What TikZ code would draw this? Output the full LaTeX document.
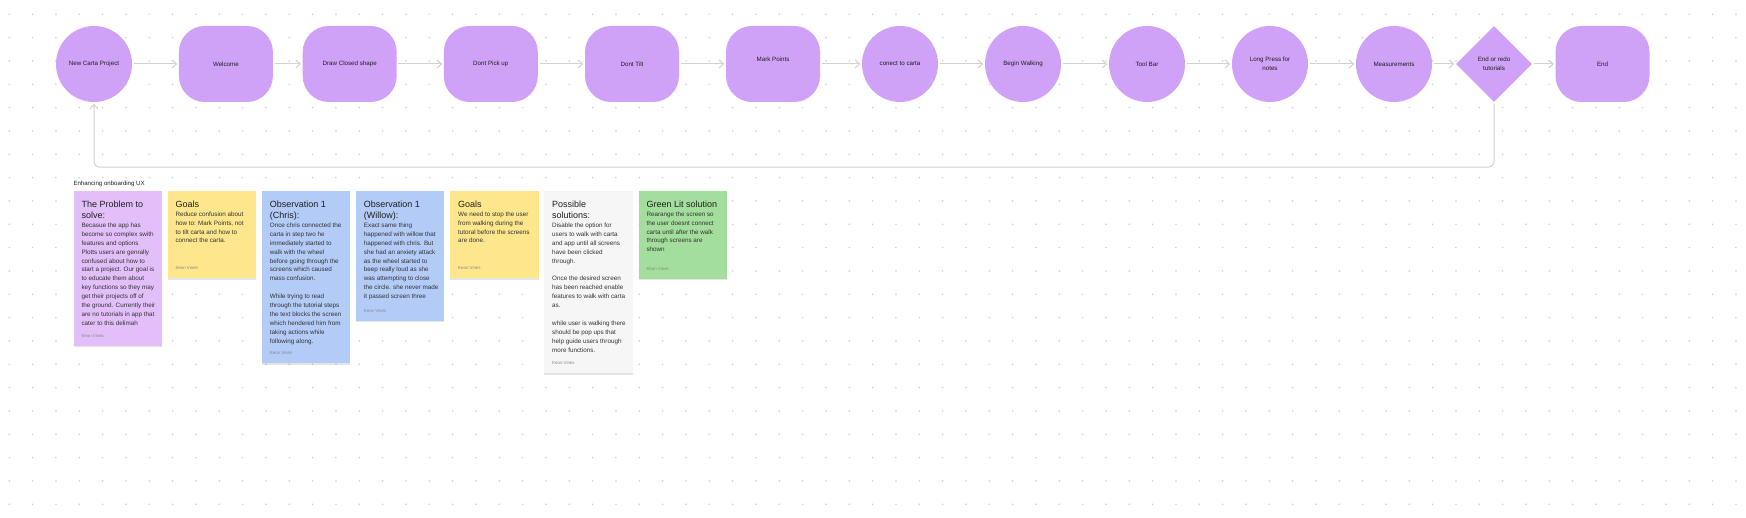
\documentclass[tikz,border=0pt]{standalone}
\usepackage{fontspec}
\setmainfont{Liberation Sans}
\usetikzlibrary{arrows.meta,shapes.geometric,shadows}
\definecolor{nodepurple}{HTML}{CFA2F8}
\definecolor{txtdark}{HTML}{1E1E1E}
\definecolor{linegray}{HTML}{D2D2D2}
\definecolor{dotgray}{HTML}{CFCFCF}
\definecolor{stviolet}{HTML}{E3BFFA}
\definecolor{styellow}{HTML}{FDE68C}
\definecolor{stblue}{HTML}{B3CBF7}
\definecolor{stgray}{HTML}{F6F6F6}
\definecolor{stgreen}{HTML}{A4DE9C}
\definecolor{notetxt}{HTML}{333333}
\definecolor{authorgray}{HTML}{8A8A8A}
\newcommand\notettl{\fontsize{9}{11.2}\selectfont\color{txtdark}}
\newcommand\notebd{\fontsize{6.3}{8.9}\selectfont\color{notetxt}}
\newcommand\firstline{\vrule height 7pt depth 0pt width 0pt}
\tikzset{
  flow/.style={fill=nodepurple, draw=none, text=txtdark, font=\fontsize{6.2}{9}\selectfont, align=center, inner sep=0pt},
  circ/.style={flow, circle, minimum size=76pt},
  rr/.style={flow, rectangle, rounded corners=26pt, minimum width=94pt, minimum height=76pt},
  dia/.style={flow, diamond, minimum width=76pt, minimum height=76pt},
  lbl/.style={inner sep=0pt, text=txtdark, font=\fontsize{6.2}{9}\selectfont, align=center},
  conn/.style={draw=linegray, line width=1pt, -{Straight Barb[length=4.5pt,width=8pt,line width=1pt]}, shorten >=1.5pt, shorten <=1.5pt},
  note/.style={rectangle, anchor=north west, minimum width=88.3pt, inner sep=0pt, draw=none,
    drop shadow={shadow xshift=0pt, shadow yshift=-1.2pt, fill=black, opacity=0.10}},
  ntext/.style={anchor=north west, inner sep=0pt, text width=84pt, align=flush left},
  author/.style={anchor=base west, inner sep=0pt, font=\fontsize{4.4}{5}\selectfont, text=authorgray},
}
\begin{document}
\begin{tikzpicture}[x=1pt,y=1pt]
\useasboundingbox (0,0) rectangle (1746,-518);
\fill[white] (0,0) rectangle (1746,-518);
% dot grid
\foreach \i in {0,...,74}{
  \foreach \j in {0,...,21}{
    \fill[dotgray] (9.3+23.333*\i,-14.3-23.333*\j) circle (0.85);
  }
}
% flow
\node[circ] (start) at (94,-64) {New Carta Project};
\node[rr] (wel) at (225.9,-64) {Welcome};
\node[rr] (draw) at (349.7,-64) {Draw Closed shape};
\node[rr] (pick) at (490.8,-64) {Dont Pick up};
\node[rr] (tilt) at (632,-64) {Dont Tilt};
\node[rr] (mark) at (773,-64) {};
\node[lbl] (markt) at (773,-59.5) {Mark Points};
\node[circ] (conn) at (900,-64) {conect to carta};
\node[circ] (walk) at (1023,-64) {Begin Walking};
\node[circ] (tool) at (1147,-64) {Tool Bar};
\node[circ] (press) at (1270,-64) {Long Press for\\notes};
\node[circ] (meas) at (1394,-64) {Measurements};
\node[dia] (dec) at (1494,-64) {End or redo\\tutorials};
\node[rr] (end) at (1602.5,-64) {End};
\draw[conn] (start) -- (wel);
\draw[conn] (wel) -- (draw);
\draw[conn] (draw) -- (pick);
\draw[conn] (pick) -- (tilt);
\draw[conn] (tilt) -- (mark);
\draw[conn] (mark) -- (conn);
\draw[conn] (conn) -- (walk);
\draw[conn] (walk) -- (tool);
\draw[conn] (tool) -- (press);
\draw[conn] (press) -- (meas);
\draw[conn] (meas) -- (dec);
\draw[conn] (dec) -- (end);
\draw[conn, rounded corners=6pt] (dec.south) -- ++(0,-65) -| (start.south);
% section title
\node[anchor=west, inner sep=0pt, font=\fontsize{6.1}{7}\selectfont, text=txtdark] (sect) at (73.3,-184) {Enhancing onboarding UX};
% note 1
\node[note, fill=stviolet, minimum height=155pt] (n1) at (73.3,-190.7) {};
\node[ntext] (n1t) at (81.3,-200.2) {\notettl\firstline The Problem to\\solve:\par
\notebd Becasue the app has\\become so complex swith\\features and options\\Plotts users are genrally\\confused about how to\\start a project. Our goal is\\to educate them about\\key functions so they may\\get their projects off of\\the ground. Currently their\\are no tutorials in app that\\cater to this delimah\par};
\node[author] (n1a) at (81.3,-337.3) {Keon Vines};
% note 2
\node[note, fill=styellow, minimum height=87.6pt] (n2) at (167.3,-190.7) {};
\node[ntext] (n2t) at (175.3,-200.2) {\notettl\firstline Goals\par
\notebd Reduce confusion about\\how to: Mark Points, not\\to tilt carta and how to\\connect the carta.\par};
\node[author] (n2a) at (175.3,-269.9) {Keon Vines};
% note 3
\node[note, fill=stblue, minimum height=172.6pt] (n3) at (261.7,-190.7) {};
\node[ntext] (n3t) at (269.7,-200.2) {\notettl\firstline Observation 1\\(Chris):\par
\notebd Once chris connected the\\carta in step two he\\immediately started to\\walk with the wheel\\before going through the\\screens which caused\\mass confusion.\\[8.9pt]While trying to read\\through the tutorial steps\\the text blocks the screen\\which hendered him from\\taking actions while\\following along.\par};
\node[author] (n3a) at (269.7,-354.9) {Keon Vines};
% note 4
\node[note, fill=stblue, minimum height=130pt] (n4) at (355.7,-190.7) {};
\node[ntext] (n4t) at (363.7,-200.2) {\notettl\firstline Observation 1\\(Willow):\par
\notebd Exact same thing\\happened with willow that\\happened with chris. But\\she had an anxiety attack\\as the wheel started to\\beep really loud as she\\was attempting to close\\the circle. she never made\\it passed screen three\par};
\node[author] (n4a) at (363.7,-312.3) {Keon Vines};
% note 5
\node[note, fill=styellow, minimum height=87.6pt] (n5) at (450,-190.7) {};
\node[ntext] (n5t) at (458,-200.2) {\notettl\firstline Goals\par
\notebd We need to stop the user\\from walking during the\\tutoral before the screens\\are done.\par};
\node[author] (n5a) at (458,-269.9) {Keon Vines};
% note 6
\node[note, fill=stgray, minimum height=182.6pt] (n6) at (544,-190.7) {};
\node[ntext] (n6t) at (552,-200.2) {\notettl\firstline Possible\\solutions:\par
\notebd Disable the option for\\users to walk with carta\\and app until all screens\\have been clicked\\through.\\[8.9pt]Once the desired screen\\has been reached enable\\features to walk with carta\\as.\\[8.9pt]while user is walking there\\should be pop ups that\\help guide users through\\more functions.\par};
\node[author] (n6a) at (552,-364.9) {Keon Vines};
% note 7
\node[note, fill=stgreen, minimum height=88pt] (n7) at (638.3,-190.7) {};
\node[ntext] (n7t) at (646.3,-200.2) {\notettl\firstline Green Lit solution\par
\notebd Rearange the screen so\\the user doesnt connect\\carta until after the walk\\through screens are\\shown\par};
\node[author] (n7a) at (646.3,-270.3) {Keon Vines};
\end{tikzpicture}
\end{document}
